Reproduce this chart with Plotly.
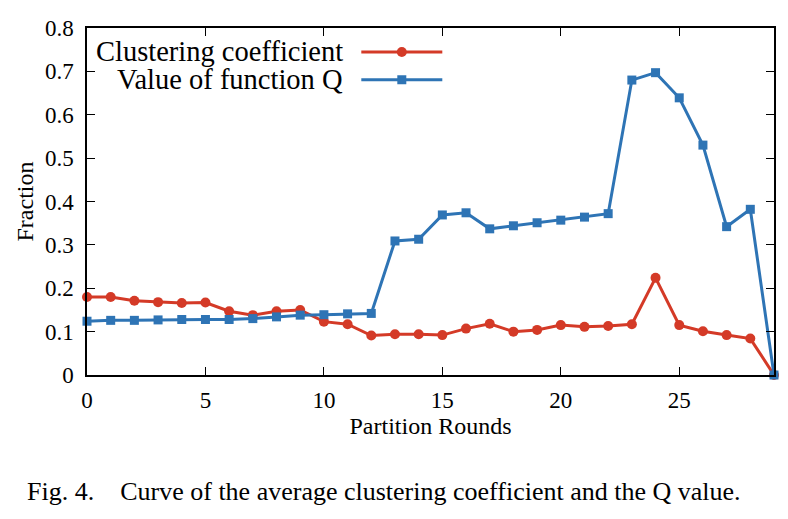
import plotly.graph_objects as go

rounds = list(range(30))
clustering = [0.180, 0.180, 0.171, 0.168, 0.166, 0.167, 0.147, 0.138, 0.147, 0.150,
              0.123, 0.117, 0.091, 0.094, 0.094, 0.092, 0.107, 0.118, 0.100, 0.104,
              0.115, 0.111, 0.113, 0.117, 0.224, 0.115, 0.101, 0.092, 0.084, 0.0]
q_value = [0.124, 0.126, 0.126, 0.127, 0.128, 0.128, 0.128, 0.130, 0.134, 0.138,
           0.139, 0.141, 0.142, 0.309, 0.313, 0.369, 0.374, 0.337, 0.344, 0.351,
           0.357, 0.364, 0.372, 0.680, 0.697, 0.639, 0.530, 0.342, 0.382, 0.0]
series_names = ["Clustering coefficient", "Value of function Q"]
x_ticks = [0, 5, 10, 15, 20, 25]
y_ticks = [0, 0.1, 0.2, 0.3, 0.4, 0.5, 0.6, 0.7, 0.8]

RED = "#d43a27"
BLUE = "#2e74b5"
FONT = "Liberation Serif"

fig = go.Figure()
fig.add_trace(go.Scatter(x=rounds, y=clustering, mode="lines+markers", name=" ",
                         line=dict(color=RED, width=3),
                         marker=dict(symbol="circle", size=10, color=RED),
                         cliponaxis=False))
fig.add_trace(go.Scatter(x=rounds, y=q_value, mode="lines+markers", name=" ",
                         line=dict(color=BLUE, width=3),
                         marker=dict(symbol="square", size=9, color=BLUE),
                         cliponaxis=False))

axis_common = dict(showline=True, linecolor="black", linewidth=1.5, mirror="ticks",
                   ticks="inside", ticklen=8, tickcolor="black", tickwidth=1,
                   showgrid=False, zeroline=False, automargin=False,
                   tickfont=dict(family=FONT, size=23, color="black"))

fig.update_layout(
    width=788, height=519,
    margin=dict(l=79, r=22, t=20, b=152),
    paper_bgcolor="white", plot_bgcolor="white",
    font=dict(family=FONT, color="black"),
    showlegend=True,
    legend=dict(x=0.392, y=0.985, xanchor="left", yanchor="top",
                bgcolor="rgba(0,0,0,0)", itemwidth=81,
                font=dict(family=FONT, size=19), tracegroupgap=0),
    xaxis=dict(range=[0, 29], tickvals=x_ticks, ticklabelstandoff=4,
               title=dict(text="Partition Rounds", font=dict(family=FONT, size=24), standoff=3),
               **axis_common),
    yaxis=dict(range=[0, 0.8], tickvals=y_ticks, ticktext=[f"{v:g}" for v in y_ticks],
               ticklabelstandoff=7,
               title=dict(text="Fraction", font=dict(family=FONT, size=24), standoff=5),
               **axis_common),
)

fig.add_annotation(text=series_names[0], xref="paper", yref="y", x=0.3755, y=0.7465,
                   xanchor="right", yanchor="middle", showarrow=False,
                   font=dict(family=FONT, size=28.5, color="black"))
fig.add_annotation(text=series_names[1], xref="paper", yref="y", x=0.3755, y=0.682,
                   xanchor="right", yanchor="middle", showarrow=False,
                   font=dict(family=FONT, size=28.5, color="black"))
fig.add_annotation(text="Fig. 4.    Curve of the average clustering coefficient and the Q value.",
                   xref="paper", yref="paper", x=-0.09, y=-0.337, xanchor="left",
                   yanchor="middle", showarrow=False,
                   font=dict(family=FONT, size=26, color="black"))

fig.write_html("out.html")
